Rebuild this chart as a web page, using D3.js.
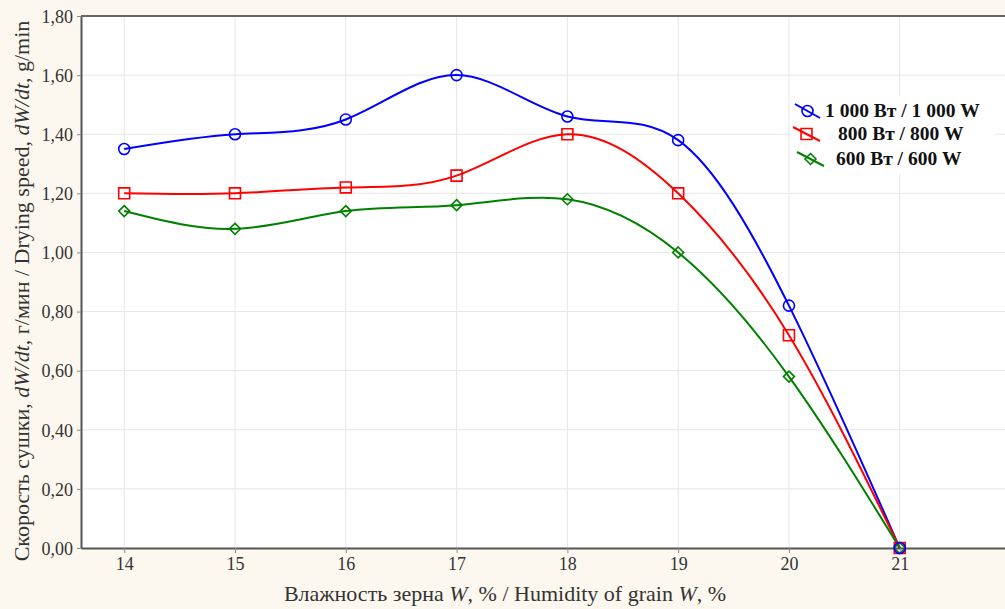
<!DOCTYPE html>
<html>
<head>
<meta charset="utf-8">
<script src="https://cdn.jsdelivr.net/npm/d3@7"></script>
<style>
  body { margin: 0; background: #fdf8ef; }
  svg { display: block; font-family: "Liberation Serif", "DejaVu Serif", serif; }
</style>
</head>
<body>
<div id="chart"></div>
<script>
// humidity of grain, %
const humidity = [14, 15, 16, 17, 18, 19, 20, 21]
const speed1000 = [1.35, 1.40, 1.45, 1.60, 1.46, 1.38, 0.82, 0.00]
const speed800 = [1.20, 1.20, 1.22, 1.26, 1.40, 1.20, 0.72, 0.00]
const speed600 = [1.14, 1.08, 1.14, 1.16, 1.18, 1.00, 0.58, 0.00]
const yTicks = [0, 0.2, 0.4, 0.6, 0.8, 1.0, 1.2, 1.4, 1.6, 1.8]
const seriesNames = ['1 000 Вт / 1 000 W', '800 Вт / 800 W', '600 Вт / 600 W']

const width = 1005, height = 609
const margin = {top: 16, right: 0, bottom: 61, left: 81}

const series = [
  {name: seriesNames[0], values: speed1000, color: '#0000ff', shape: 'circle'},
  {name: seriesNames[1], values: speed800, color: '#ff0000', shape: 'square'},
  {name: seriesNames[2], values: speed600, color: '#008000', shape: 'diamond'}
]

const svg = d3.select('#chart').append('svg')
  .attr('width', width)
  .attr('height', height)

svg.append('rect').attr('width', width).attr('height', height).attr('fill', '#fdf8ef')

const x = d3.scaleLinear().domain([13.61, 21.95]).range([margin.left, width - margin.right])
const y = d3.scaleLinear().domain([0, 1.8]).range([height - margin.bottom, margin.top])

// plot area
svg.append('rect')
  .attr('x', margin.left).attr('y', margin.top)
  .attr('width', width - margin.right - margin.left)
  .attr('height', height - margin.bottom - margin.top)
  .attr('fill', '#ffffff')

// grid
const grid = svg.append('g').attr('stroke', '#e6e6e6').attr('stroke-width', 1)
grid.selectAll('.gx').data(humidity).enter().append('line')
  .attr('x1', d => x(d)).attr('x2', d => x(d))
  .attr('y1', margin.top).attr('y2', height - margin.bottom)
grid.selectAll('.gy').data(yTicks.slice(1)).enter().append('line')
  .attr('x1', margin.left).attr('x2', width - margin.right)
  .attr('y1', d => y(d)).attr('y2', d => y(d))

const fmt = d => d3.format('.2f')(d).replace('.', ',')

// axes
const xAxis = svg.append('g')
  .attr('transform', `translate(0,${height - margin.bottom})`)
  .call(d3.axisBottom(x).tickValues(humidity).tickSize(5).tickPadding(4).tickSizeOuter(0))
const yAxis = svg.append('g')
  .attr('transform', `translate(${margin.left},0)`)
  .call(d3.axisLeft(y).tickValues(yTicks).tickFormat(fmt).tickSize(4).tickPadding(4).tickSizeOuter(0))

for (const ax of [xAxis, yAxis]) {
  ax.select('.domain').attr('stroke', '#555').attr('stroke-width', 2)
  ax.selectAll('.tick line').attr('stroke', '#888')
  ax.selectAll('.tick text')
    .attr('fill', '#333')
    .style('font-size', '18px')
    .style('font-family', '"Liberation Serif", serif')
}
yAxis.selectAll('.tick text').attr('dy', '0.35em')

// top frame
svg.append('line')
  .attr('x1', margin.left).attr('x2', width)
  .attr('y1', margin.top).attr('y2', margin.top)
  .attr('stroke', '#666').attr('stroke-width', 2)

// legend box (hides grid)
const legend = svg.append('g').attr('transform', 'translate(790,96)')
legend.append('rect').attr('x', 0).attr('y', 0).attr('width', 205).attr('height', 78).attr('fill', '#fff')

// curves
const line = d3.line()
  .x((d, i) => x(humidity[i]))
  .y(d => y(d))
  .curve(d3.curveNatural)

const diamond = {
  draw(ctx, size) {
    const r = Math.sqrt(size / 2)
    ctx.moveTo(0, -r); ctx.lineTo(r, 0); ctx.lineTo(0, r); ctx.lineTo(-r, 0); ctx.closePath()
  }
}
const symbolFor = {
  circle: d3.symbol().type(d3.symbolCircle).size(95),
  square: d3.symbol().type(d3.symbolSquare).size(120),
  diamond: d3.symbol().type(diamond).size(60)
}

series.forEach(s => {
  svg.append('path')
    .datum(s.values)
    .attr('fill', 'none')
    .attr('stroke', s.color)
    .attr('stroke-width', 2)
    .attr('d', line)
})

// markers drawn after all lines
series.slice().reverse().forEach(s => {
  svg.append('g').selectAll('path')
    .data(s.values)
    .enter().append('path')
    .attr('transform', (d, i) => `translate(${x(humidity[i])},${y(d)})`)
    .attr('d', symbolFor[s.shape]())
    .attr('fill', 'none')
    .attr('stroke', s.color)
    .attr('stroke-width', 1.6)
})

// legend entries
const rowY = [15, 38, 63]
const lineX = [[5, 30], [3, 30], [7, 34]]
const textX = [35, 48, 46]
series.forEach((s, i) => {
  const g = legend.append('g').attr('transform', `translate(0,${rowY[i]})`)
  g.append('line')
    .attr('x1', lineX[i][0]).attr('x2', lineX[i][1])
    .attr('y1', -7).attr('y2', 7)
    .attr('stroke', s.color).attr('stroke-width', 2)
  g.append('path')
    .attr('transform', `translate(${(lineX[i][0] + lineX[i][1]) / 2},0)`)
    .attr('d', symbolFor[s.shape]())
    .attr('fill', 'none').attr('stroke', s.color).attr('stroke-width', 1.6)
  g.append('text')
    .attr('x', textX[i]).attr('y', 6)
    .style('font-size', '19.5px').style('font-weight', 'bold')
    .attr('fill', '#111')
    .text(s.name)
})

// axis titles
const xt = svg.append('text')
  .attr('x', 505).attr('y', 601)
  .attr('text-anchor', 'middle')
  .attr('fill', '#333')
  .style('font-size', '22px')
xt.append('tspan').text('Влажность зерна ')
xt.append('tspan').style('font-style', 'italic').text('W')
xt.append('tspan').text(', % / Humidity of grain ')
xt.append('tspan').style('font-style', 'italic').text('W')
xt.append('tspan').text(', %')

const yt = svg.append('text')
  .attr('transform', `translate(29,291) rotate(-90)`)
  .attr('text-anchor', 'middle')
  .attr('fill', '#333')
  .style('font-size', '22px')
yt.append('tspan').text('Скорость сушки, ')
yt.append('tspan').style('font-style', 'italic').text('dW/dt')
yt.append('tspan').text(', г/мин / Drying speed, ')
yt.append('tspan').style('font-style', 'italic').text('dW/dt')
yt.append('tspan').text(', g/min')
</script>
</body>
</html>
